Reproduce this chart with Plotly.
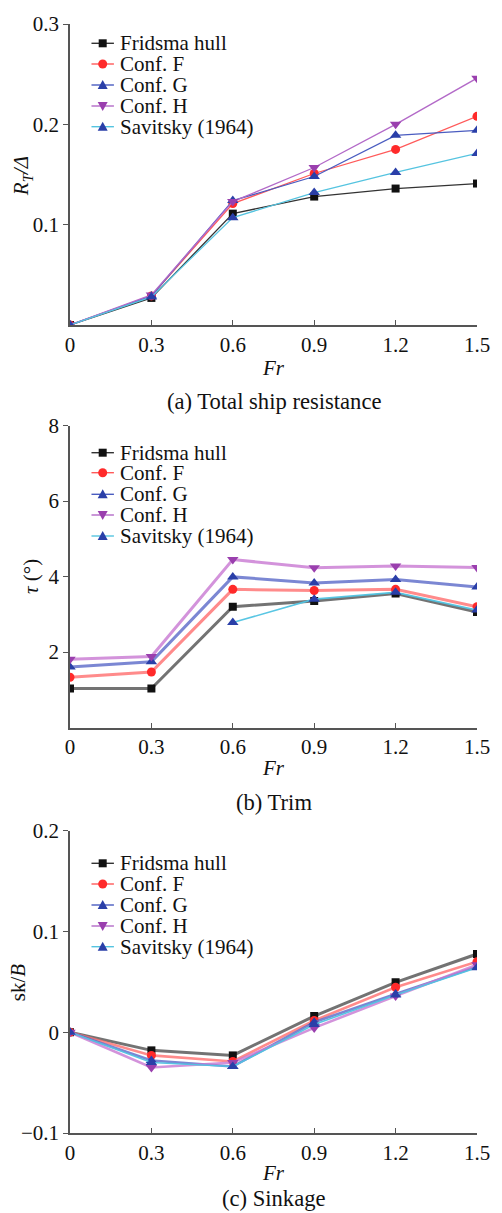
import plotly.graph_objects as go

# ---------------- data ----------------
fr = [0, 0.3, 0.6, 0.9, 1.2, 1.5]
fr_ticks = ["0", "0.3", "0.6", "0.9", "1.2", "1.5"]
series_names = ["Fridsma hull", "Conf. F", "Conf. G", "Conf. H", "Savitsky (1964)"]

# (a) total resistance R_T/Δ
res_fridsma = [0.0, 0.027, 0.111, 0.128, 0.136, 0.141]
res_conf_f = [0.0, 0.029, 0.121, 0.151, 0.175, 0.208]
res_conf_g = [0.0, 0.029, 0.124, 0.148, 0.189, 0.194]
res_conf_h = [0.0, 0.030, 0.123, 0.157, 0.200, 0.246]
res_savitsky = [0.0, 0.028, 0.107, 0.132, 0.152, 0.171]

# (b) trim τ (deg)
trim_fridsma = [1.03, 1.03, 3.20, 3.35, 3.55, 3.06]
trim_conf_f = [1.33, 1.47, 3.66, 3.63, 3.66, 3.20]
trim_conf_g = [1.60, 1.74, 3.99, 3.83, 3.92, 3.72]
trim_conf_h = [1.81, 1.88, 4.45, 4.23, 4.28, 4.24]
trim_savitsky = [None, None, 2.78, 3.40, 3.58, 3.11]

# (c) sinkage sk/B
sink_fridsma = [0.0, -0.018, -0.023, 0.016, 0.0495, 0.0776]
sink_conf_f = [0.0, -0.023, -0.029, 0.0116, 0.0446, 0.070]
sink_conf_g = [0.0, -0.028, -0.034, 0.010, 0.038, 0.065]
sink_conf_h = [0.0, -0.035, -0.030, 0.0043, 0.036, 0.067]
sink_savitsky = [0.0, -0.030, -0.034, 0.0076, 0.037, 0.064]

res_ticks = [0.1, 0.2, 0.3]
trim_ticks = [2, 4, 6, 8]
sink_ticks = [-0.1, 0, 0.1, 0.2]
sink_ticktext = ["\u22120.1", "0", "0.1", "0.2"]

# ---------------- styling ----------------
W, H = 502, 1213
ML, MR, MT, MB = 70, 15, 24, 80
PW, PH = W - ML - MR, H - MT - MB
FONT = "Liberation Serif, Times New Roman, serif"

def px_x(x):
    return (x - ML) / PW

def px_y(y):
    return (H - MB - y) / PH

marker_colors = ["#111111", "#ff2a2a", "#2a3fa8", "#9a3fae", "#2a3fa8"]
marker_symbols = ["square", "circle", "triangle-up", "triangle-down", "triangle-up"]
marker_sizes = [8, 9, 10, 10, 10]
line_colors_a = ["#333333", "#ff5a5a", "#4a5cc0", "#b36ac8", "#55c4e0"]
line_colors_b = ["rgba(90,90,90,0.85)", "rgba(255,110,110,0.8)", "rgba(90,105,200,0.8)",
                 "rgba(200,120,210,0.8)", "rgba(80,195,225,0.95)"]
line_widths_a = [1.3, 1.3, 1.3, 1.3, 1.3]
line_widths_b = [3.0, 3.0, 3.0, 3.0, 1.6]
line_widths_c = [3.0, 2.6, 2.6, 2.6, 1.6]

panels = [
    dict(ys=[res_fridsma, res_conf_f, res_conf_g, res_conf_h, res_savitsky],
         top=24, bot=325, yr=[0, 0.3], tv=res_ticks, tt=["0.1", "0.2", "0.3"],
         lc=line_colors_a, lw=line_widths_a,
         ytitle="<i>R</i><sub><i>T</i></sub><i>/Δ</i>", ytx=21, yty=176,
         frY=368, cap="(a) Total ship resistance", capY=401,
         rows=[43.3, 64, 85, 106, 126.7]),
    dict(ys=[trim_fridsma, trim_conf_f, trim_conf_g, trim_conf_h, trim_savitsky],
         top=425.5, bot=727.5, yr=[0, 8], tv=trim_ticks, tt=["2", "4", "6", "8"],
         lc=line_colors_b, lw=line_widths_b,
         ytitle="<i>τ</i> (°)", ytx=30, yty=576,
         frY=768, cap="(b) Trim", capY=802,
         rows=[452.7, 472.7, 494.3, 515, 536]),
    dict(ys=[sink_fridsma, sink_conf_f, sink_conf_g, sink_conf_h, sink_savitsky],
         top=830.7, bot=1133, yr=[-0.1, 0.2], tv=sink_ticks, tt=sink_ticktext,
         lc=line_colors_b, lw=line_widths_c,
         ytitle="sk/<i>B</i>", ytx=17, yty=982,
         frY=1173, cap="(c) Sinkage", capY=1198,
         rows=[863.3, 884, 905, 926, 946.7]),
]

fig = go.Figure()
annotations = []
shapes = []
layout_axes = {}

for i, p in enumerate(panels):
    n = "" if i == 0 else str(i + 1)
    xa, ya = "x" + n, "y" + n
    for k, name in enumerate(series_names):
        fig.add_trace(go.Scatter(
            x=fr, y=p["ys"][k], name=name, mode="lines+markers",
            xaxis=xa, yaxis=ya, showlegend=False,
            line=dict(color=p["lc"][k], width=p["lw"][k]),
            marker=dict(symbol=marker_symbols[k], size=marker_sizes[k],
                        color=marker_colors[k], line=dict(width=0)),
            connectgaps=False,
        ))
    axcommon = dict(showgrid=False, zeroline=False, showline=True,
                    linecolor="#555555", linewidth=1.5,
                    tickfont=dict(family=FONT, size=21, color="#111111"),
                    tickcolor="#555555", tickwidth=1.2, ticklen=5)
    layout_axes["xaxis" + n] = dict(
        axcommon, domain=[0, 1], range=[0, 1.5], anchor=ya,
        tickvals=fr, ticktext=fr_ticks, ticks="inside")
    layout_axes["yaxis" + n] = dict(
        axcommon, domain=[px_y(p["bot"]), px_y(p["top"])], range=p["yr"], anchor=xa,
        tickvals=p["tv"], ticktext=p["tt"], ticks="outside")

    # axis titles and caption
    annotations.append(dict(text="<i>Fr</i>", x=px_x(278), y=px_y(p["frY"]),
                            xref="paper", yref="paper", showarrow=False,
                            xanchor="center", yanchor="middle",
                            font=dict(family=FONT, size=21, color="#111111")))
    annotations.append(dict(text=p["cap"], x=px_x(279), y=px_y(p["capY"]),
                            xref="paper", yref="paper", showarrow=False,
                            xanchor="center", yanchor="middle",
                            font=dict(family=FONT, size=22.6, color="#111111")))
    annotations.append(dict(text=p["ytitle"], x=px_x(p["ytx"]), y=px_y(p["yty"]),
                            xref="paper", yref="paper", showarrow=False, textangle=-90,
                            xanchor="center", yanchor="middle",
                            font=dict(family=FONT, size=21, color="#111111")))

    # legend (drawn as layout decorations)
    for k, name in enumerate(series_names):
        ry = p["rows"][k]
        shapes.append(dict(type="line", xref="paper", yref="paper",
                           x0=px_x(92), x1=px_x(115), y0=px_y(ry), y1=px_y(ry),
                           line=dict(color=line_colors_a[k], width=1.4)))
        sym = marker_symbols[k]
        base = dict(xref="paper", yref="paper", xsizemode="pixel", ysizemode="pixel",
                    xanchor=px_x(103.5), yanchor=px_y(ry),
                    fillcolor=marker_colors[k], line=dict(width=0))
        if sym == "square":
            shapes.append(dict(base, type="rect", x0=-4, x1=4, y0=-4, y1=4))
        elif sym == "circle":
            shapes.append(dict(base, type="circle", x0=-4.5, x1=4.5, y0=-4.5, y1=4.5))
        elif sym == "triangle-up":
            shapes.append(dict(base, type="path", path="M -5,-4 L 5,-4 L 0,5 Z"))
        else:
            shapes.append(dict(base, type="path", path="M -5,4 L 5,4 L 0,-5 Z"))
        annotations.append(dict(text=name, x=px_x(119), y=px_y(ry),
                                xref="paper", yref="paper", showarrow=False,
                                xanchor="left", yanchor="middle",
                                font=dict(family=FONT, size=21, color="#111111")))

fig.update_layout(
    width=W, height=H,
    margin=dict(l=ML, r=MR, t=MT, b=MB),
    paper_bgcolor="white", plot_bgcolor="white",
    showlegend=False,
    annotations=annotations, shapes=shapes,
    **layout_axes,
)

fig.write_html("out.html",
               config={"displayModeBar": False},
               post_script="document.body.style.margin='0';document.body.style.overflow='hidden';")
